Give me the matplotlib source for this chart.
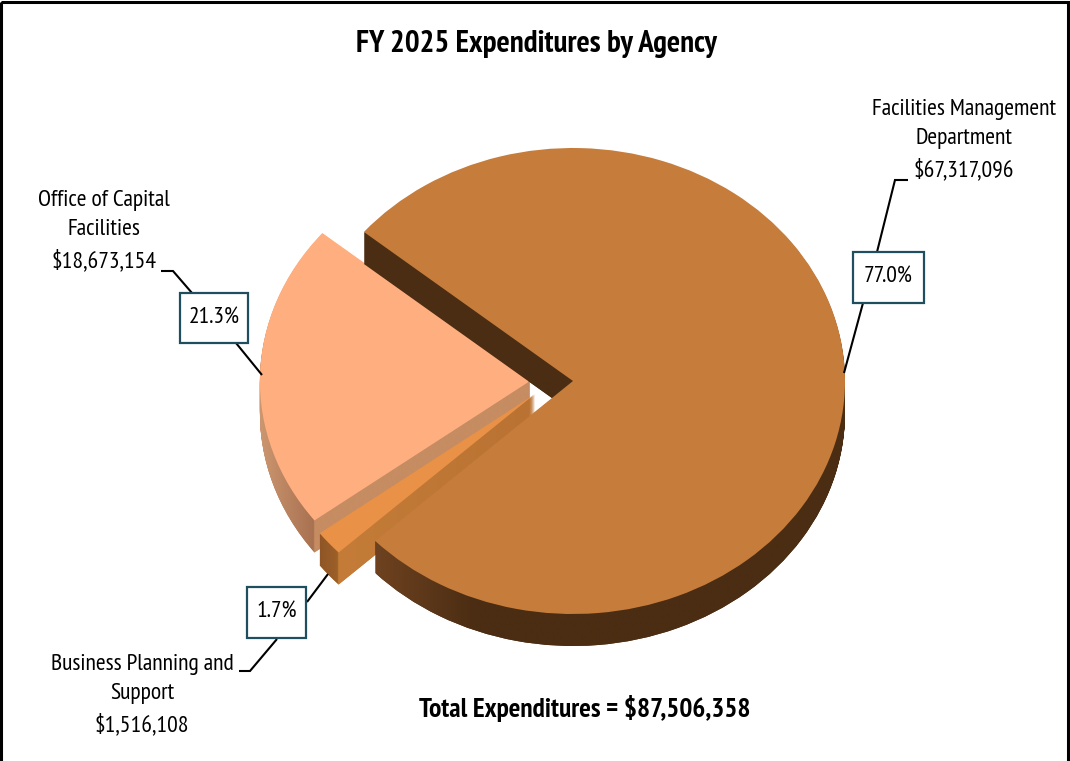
import numpy as np
import matplotlib
matplotlib.use("Agg")
import matplotlib.pyplot as plt
from matplotlib.path import Path
from matplotlib.colors import LinearSegmentedColormap
from matplotlib.patches import Rectangle
from matplotlib import font_manager as fm

agencies = ["Facilities Management\nDepartment", "Office of Capital\nFacilities", "Business Planning and\nSupport"]
amounts = [67317096, 18673154, 1516108]
pct_labels = ["77.0%", "21.3%", "1.7%"]
total_label = "Total Expenditures = $87,506,358"
title = "FY 2025 Expenditures by Agency"

top_colors = ["#C67C3B", "#FFAF7F", "#E89147"]
side_colors = ["#4B2D13", "#C68C62", "#C47C38"]

W, H = 1070, 761
CX, CY, RX, RY = 573, 381, 272, 233
DEPTH = 32
START = 223.3

names = {f.name for f in fm.fontManager.ttflist}
FONT = next((n for n in ["PT Sans Narrow", "Open Sans Condensed", "Archivo Narrow", "Asap Condensed",
                         "Liberation Sans Narrow", "Liberation Sans"] if n in names), "DejaVu Sans")

fig = plt.figure(figsize=(W / 100, H / 100), dpi=100, facecolor="white")
ax = fig.add_axes([0, 0, 1, 1], zorder=1)
ax.patch.set_alpha(0)


def ux(px):
    return (px - CX) / RX


def uy(py):
    return (CY - py) / RY


offsets = [(0, 0), (-43, 0), (-38, 13)]
radii = [1.0, 0.993, 0.992]
order = {0: 2, 1: 0, 2: 1}   # paint order: office, business, main
side_grad = [
    ((376, 475, 845), ["#6E4220", "#4B2D13", "#4B2D13"], CY),
    ((260, 313.5, 314.5, 530), ["#CC9670", "#A87252", "#C68C62", "#C68C62"], 0),
    ((319, 337.5, 338.5, 535), ["#8E5526", "#9C6029", "#C47C38", "#B97232"], 0),
]

layers = [[] for _ in amounts]
for d in range(DEPTH, -1, -1):
    wedges, _ = ax.pie(amounts, startangle=START, counterclock=True,
                       colors=top_colors if d == 0 else side_colors,
                       radius=1.0, center=(0, 0), wedgeprops=dict(linewidth=0))
    for i, w in enumerate(wedges):
        dx, dy = offsets[i]
        w.set_center((ux(CX + dx), uy(CY + dy + d)))
        w.set_radius(radii[i])
        w.set_zorder(10 * order[i] + (2 if d == 0 else 1))
        if d > 0:
            layers[i].append(w.get_path())

ax.set_aspect("auto")
xlim = (ux(0), ux(W))
ylim = (uy(H), uy(0))

for i, paths in enumerate(layers):
    xs, cols, ytop = side_grad[i]
    x0, x1 = xs[0], xs[-1]
    nodes = [(x - x0) / (x1 - x0) for x in xs]
    cmap = LinearSegmentedColormap.from_list("g", list(zip(nodes, cols)), N=1024)
    grad = np.linspace(0, 1, 1024)[None, :]
    im = ax.imshow(grad, cmap=cmap, aspect="auto", interpolation="bilinear",
                   extent=(ux(x0), ux(x1), uy(H), uy(ytop)),
                   zorder=10 * order[i] + 1.5)
    im.set_clip_path(Path.make_compound_path(*paths), transform=ax.transData)
ax.set_xlim(xlim)
ax.set_ylim(ylim)
ax.axis("off")

ov = fig.add_axes([0, 0, 1, 1], zorder=2)
ov.set_xlim(0, W)
ov.set_ylim(H, 0)
ov.axis("off")
ov.patch.set_alpha(0)

ov.add_patch(Rectangle((1, 2), 1067, 780, fill=False, edgecolor="black", lw=2.2))

leaders = [
    ([908, 895, 877], [180, 180, 252]), ([863, 844], [303, 373]),
    ([161, 173, 192], [271, 271, 293]), ([236, 262], [343, 375]),
    ([239, 250, 277], [671, 671, 639]), ([307, 328], [602, 574]),
]
for xs, ys in leaders:
    ov.plot(xs, ys, color="black", lw=1.5, solid_joinstyle="miter", solid_capstyle="butt")

boxes = [(853, 252, 71, 51), (180, 293, 68, 50), (247, 587, 59, 51)]
for (x, y, w, h), lab in zip(boxes, pct_labels):
    ov.add_patch(Rectangle((x, y), w, h, facecolor="white", edgecolor="#1F4E5F", lw=1.6, zorder=5))
    ov.text(x + w / 2, y + h / 2, lab, ha="center", va="center", family=FONT,
            fontsize=17, color="black", zorder=6)

label_pos = [(964, 140), (104, 231), (142, 695)]
for (x, y), name, amt in zip(label_pos, agencies, amounts):
    ov.text(x, y, f"{name}\n${amt:,}", ha="center", va="center", multialignment="center",
            family=FONT, fontsize=17, linespacing=1.5, color="black")

ov.text(536, 44, title, ha="center", va="center", family=FONT, fontsize=22.3, fontweight="bold")
ov.text(585, 709, total_label, ha="center", va="center", family=FONT, fontsize=19.7, fontweight="bold")

fig.savefig("out.png", dpi=100, facecolor="white")
